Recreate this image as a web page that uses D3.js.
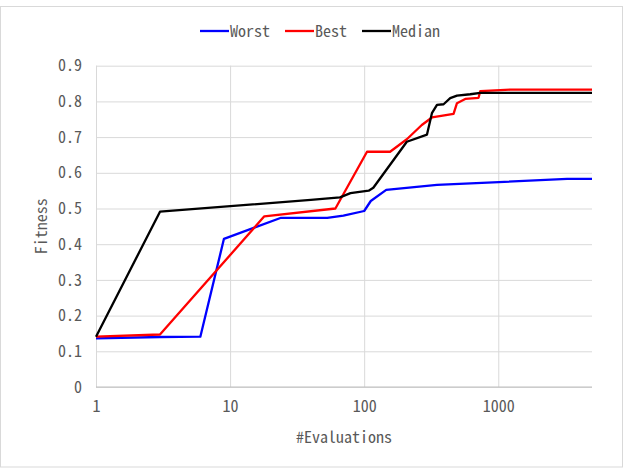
<!DOCTYPE html>
<html>
<head>
<meta charset="utf-8">
<script src="https://cdn.jsdelivr.net/npm/d3@7"></script>
<style>
  html, body { margin: 0; padding: 0; background: #fff; }
  svg { display: block; }
  .lbl { font-family: "Noto Sans Mono CJK JP", "Noto Sans CJK JP", "DejaVu Sans Mono", monospace; fill: #595959; }
</style>
</head>
<body>
<svg id="chart" width="624" height="468"></svg>
<script>
// Fitness progress over the number of evaluations
const evalsWorst  = [1, 3, 6, 9, 24, 53, 70, 100, 112, 146, 349, 3257, 5000];
const worst       = [0.136, 0.140, 0.141, 0.415, 0.474, 0.474, 0.480, 0.493, 0.521, 0.552, 0.566, 0.583, 0.583];

const evalsBest   = [1, 3, 18, 61, 105, 156, 208, 269, 320, 464, 492, 567, 713, 734, 1230, 5000];
const best        = [0.141, 0.147, 0.478, 0.500, 0.659, 0.659, 0.694, 0.734, 0.755, 0.765, 0.795, 0.807, 0.810, 0.829, 0.833, 0.833];

const evalsMedian = [1, 3, 40, 66, 79, 108, 117, 208, 294, 320, 349, 391, 438, 492, 618, 734, 5000];
const median      = [0.141, 0.491, 0.524, 0.531, 0.543, 0.550, 0.558, 0.687, 0.707, 0.767, 0.790, 0.792, 0.809, 0.816, 0.820, 0.824, 0.824];

const xTicks = [1, 10, 100, 1000];
const yTicks = [0, 0.1, 0.2, 0.3, 0.4, 0.5, 0.6, 0.7, 0.8, 0.9];

const seriesNames  = ["Worst", "Best", "Median"];
const seriesColors = ["#0000ff", "#ff0000", "#000000"];

const svg = d3.select("#chart");
const fontSize = "16px";

// chart frame
svg.append("rect")
  .attr("x", 0.5).attr("y", 6.5).attr("width", 622).attr("height", 460.5)
  .attr("fill", "#fff").attr("stroke", "#d9d9d9");

const plotL = 96, plotR = 592, plotT = 65.7, plotB = 387;
const x = d3.scaleLog().domain([1, 5000]).range([plotL, plotR]);
const y = d3.scaleLinear().domain([0, 0.9]).range([plotB, plotT]);

// horizontal gridlines + y tick labels
const yAxis = d3.axisLeft(y)
  .tickValues(yTicks)
  .tickSize(-(plotR - plotL))
  .tickPadding(14)
  .tickFormat(d => d === 0 ? "0" : d3.format(".1f")(d));
const gy = svg.append("g").attr("transform", `translate(${plotL},0)`).call(yAxis);
gy.select(".domain").remove();
gy.selectAll(".tick line").attr("stroke", "#d9d9d9").attr("stroke-width", 1);
gy.selectAll(".tick text").attr("class", "lbl").style("font-size", fontSize).attr("fill", "#595959");

// vertical gridlines + x tick labels
const xAxis = d3.axisBottom(x)
  .tickValues(xTicks)
  .tickSize(-(plotB - plotT))
  .tickPadding(14)
  .tickFormat(d3.format("d"));
const gx = svg.append("g").attr("transform", `translate(0,${plotB})`).call(xAxis);
gx.select(".domain").remove();
gx.selectAll(".tick line").attr("stroke", "#d9d9d9").attr("stroke-width", 1);
gx.selectAll(".tick text").attr("class", "lbl").style("font-size", fontSize).attr("fill", "#595959");

// baseline
svg.append("line")
  .attr("x1", plotL).attr("x2", plotR)
  .attr("y1", y(0)).attr("y2", y(0))
  .attr("stroke", "#bfbfbf").attr("stroke-width", 1);

// series lines
const line = d3.line().x(d => x(d[0])).y(d => y(d[1]));
const seriesData = [
  d3.zip(evalsWorst, worst),
  d3.zip(evalsBest, best),
  d3.zip(evalsMedian, median)
];
seriesData.forEach((pts, i) => {
  svg.append("path")
    .datum(pts)
    .attr("d", line)
    .attr("fill", "none")
    .attr("stroke", seriesColors[i])
    .attr("stroke-width", 2.3)
    .attr("stroke-linejoin", "round");
});

// axis titles
svg.append("text").attr("class", "lbl")
  .attr("x", (plotL + plotR) / 2).attr("y", 443)
  .attr("text-anchor", "middle").style("font-size", fontSize)
  .text("#Evaluations");
svg.append("text").attr("class", "lbl")
  .attr("transform", `translate(47,${(plotT + plotB) / 2}) rotate(-90)`)
  .attr("text-anchor", "middle").style("font-size", fontSize)
  .text("Fitness");

// legend
const legendX = [200, 285, 362];
const legend = svg.append("g");
seriesNames.forEach((name, i) => {
  legend.append("line")
    .attr("x1", legendX[i]).attr("x2", legendX[i] + 29)
    .attr("y1", 31).attr("y2", 31)
    .attr("stroke", seriesColors[i]).attr("stroke-width", 2.3);
  legend.append("text").attr("class", "lbl")
    .attr("x", legendX[i] + 30).attr("y", 31)
    .attr("dy", "0.35em").style("font-size", fontSize)
    .text(name);
});
</script>
</body>
</html>
